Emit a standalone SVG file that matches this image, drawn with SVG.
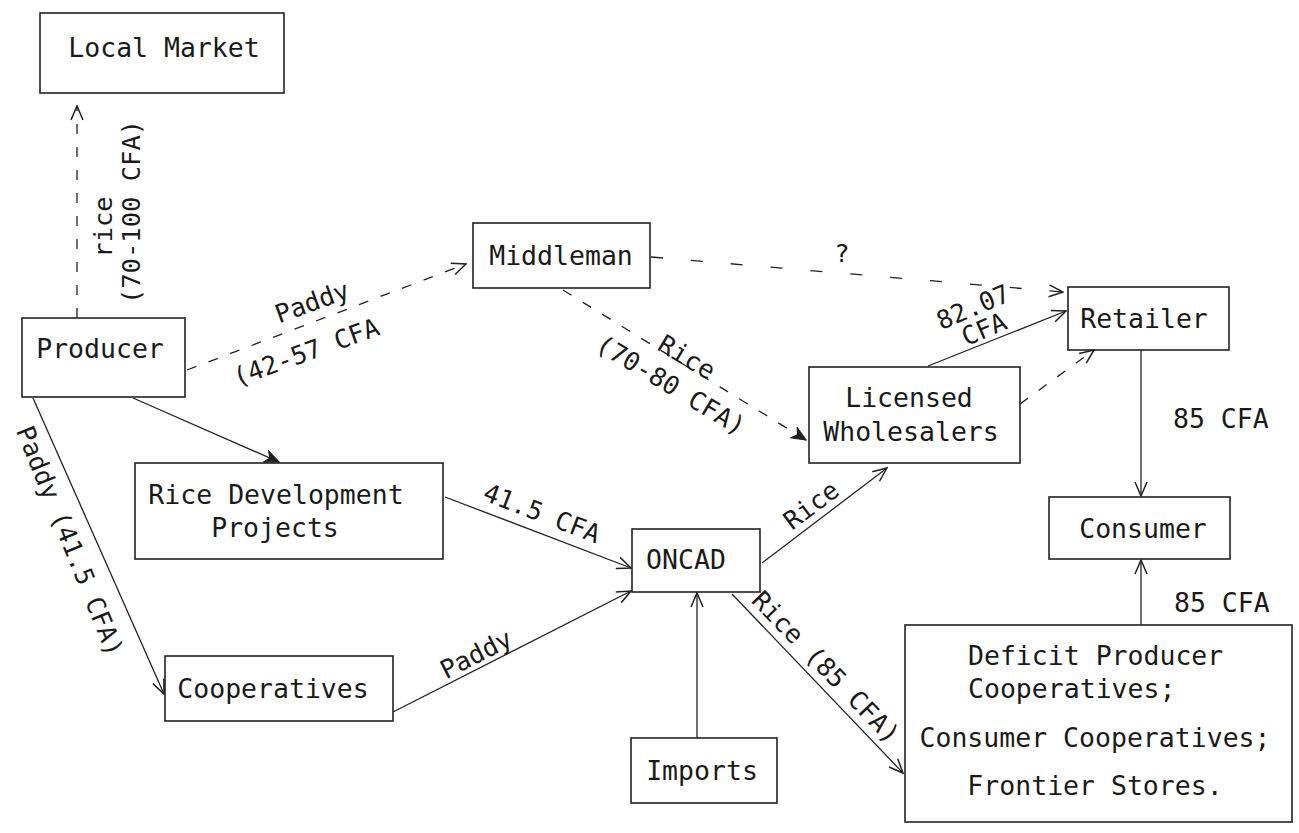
<svg xmlns="http://www.w3.org/2000/svg" width="1299" height="833" viewBox="0 0 1299 833">
<style>
  .box { fill: none; stroke: #222; stroke-width: 1.6; }
  .t { font-family: "DejaVu Sans Mono", "Liberation Mono", monospace; font-size: 26.5px; fill: #1a1a1a; }
  .c { text-anchor: middle; }
  .lbl { font-family: "DejaVu Sans Mono", "Liberation Mono", monospace; font-size: 25.5px; fill: #1a1a1a; text-anchor: middle; }
  .ln { fill: none; stroke: #222; stroke-width: 1.3; }
  .dash { stroke-dasharray: 10 13; }
  .sparse { stroke-dasharray: 12 28; }
</style>
<defs>
  <marker id="arr" viewBox="0 0 16 14" refX="15" refY="7" markerWidth="16" markerHeight="14" markerUnits="userSpaceOnUse" orient="auto">
    <path d="M1,1 L15,7 L1,13" fill="none" stroke="#222" stroke-width="1.5"/>
  </marker>
  <marker id="arrf" viewBox="0 0 16 14" refX="15" refY="7" markerWidth="16" markerHeight="14" markerUnits="userSpaceOnUse" orient="auto">
    <path d="M1,1 L15,7 L1,13 L5,7 Z" fill="#222" stroke="#222" stroke-width="1.2"/>
  </marker>
</defs>
<rect width="1299" height="833" fill="#ffffff"/>

<g id="connectors">
  <!-- Producer -> Local Market -->
  <line class="ln dash" x1="77" y1="318" x2="77" y2="106" marker-end="url(#arr)"/>
  <g transform="translate(103 227) rotate(-90)"><text class="lbl" x="0" y="9">rice</text></g>
  <g transform="translate(131 212) rotate(-90)"><text class="lbl" x="0" y="9">(70-100 CFA)</text></g>

  <!-- Producer -> Middleman -->
  <line class="ln dash" x1="187" y1="370" x2="466" y2="264" marker-end="url(#arr)"/>
  <g transform="translate(312 302) rotate(-20)"><text class="lbl" x="0" y="9">Paddy</text></g>
  <g transform="translate(306 352) rotate(-20)"><text class="lbl" x="0" y="9">(42-57 CFA</text></g>

  <!-- Middleman -> Retailer -->
  <line class="ln sparse" x1="651" y1="257" x2="1063" y2="292" marker-end="url(#arr)"/>
  <text class="lbl" x="842" y="262">?</text>

  <!-- Middleman -> Licensed Wholesalers -->
  <line class="ln dash" x1="563" y1="290" x2="806" y2="440" marker-end="url(#arrf)"/>
  <g transform="translate(687 357) rotate(31)"><text class="lbl" x="0" y="9">Rice</text></g>
  <g transform="translate(671 385) rotate(31)"><text class="lbl" x="0" y="9">(70-80 CFA)</text></g>

  <!-- Licensed Wholesalers -> Retailer (solid) -->
  <line class="ln" x1="928" y1="366" x2="1066" y2="311" marker-end="url(#arr)"/>
  <g transform="translate(973 307) rotate(-23)"><text class="lbl" x="0" y="9">82.07</text></g>
  <g transform="translate(984 329) rotate(-23)"><text class="lbl" x="0" y="9">CFA</text></g>

  <!-- Licensed Wholesalers -> Retailer (dashed) -->
  <line class="ln dash" x1="1020" y1="404" x2="1094" y2="350" marker-end="url(#arr)"/>

  <!-- Retailer -> Consumer -->
  <line class="ln" x1="1141" y1="350" x2="1141" y2="496" marker-end="url(#arr)"/>
  <text class="t" x="1173" y="428">85 CFA</text>

  <!-- Deficit -> Consumer -->
  <line class="ln" x1="1141" y1="625" x2="1141" y2="560" marker-end="url(#arr)"/>
  <text class="t" x="1174" y="612">85 CFA</text>

  <!-- Producer -> Rice Development Projects -->
  <line class="ln" x1="133" y1="398" x2="279" y2="462" marker-end="url(#arrf)"/>

  <!-- Producer -> Cooperatives -->
  <line class="ln" x1="33" y1="398" x2="164" y2="694" marker-end="url(#arr)"/>
  <g transform="translate(70 541) rotate(68)"><text class="lbl" x="0" y="9">Paddy (41.5 CFA)</text></g>

  <!-- Rice Development Projects -> ONCAD -->
  <line class="ln" x1="445" y1="497" x2="631" y2="568" marker-end="url(#arr)"/>
  <g transform="translate(542 513) rotate(21)"><text class="lbl" x="0" y="9">41.5 CFA</text></g>

  <!-- Cooperatives -> ONCAD -->
  <line class="ln" x1="393" y1="712" x2="631" y2="591" marker-end="url(#arr)"/>
  <g transform="translate(476 654) rotate(-27)"><text class="lbl" x="0" y="9">Paddy</text></g>

  <!-- Imports -> ONCAD -->
  <line class="ln" x1="697" y1="738" x2="697" y2="593" marker-end="url(#arr)"/>

  <!-- ONCAD -> Licensed Wholesalers -->
  <line class="ln" x1="762" y1="563" x2="887" y2="468" marker-end="url(#arr)"/>
  <g transform="translate(811 505) rotate(-37)"><text class="lbl" x="0" y="9">Rice</text></g>

  <!-- ONCAD -> Deficit Producer Cooperatives -->
  <line class="ln" x1="732" y1="594" x2="903" y2="773" marker-end="url(#arr)"/>
  <g transform="translate(826 667) rotate(46)"><text class="lbl" x="0" y="9">Rice (85 CFA)</text></g>
</g>

<g id="local-market">
  <rect class="box" x="40" y="13" width="244" height="80"/>
  <text class="t c" x="164" y="57">Local Market</text>
</g>
<g id="producer">
  <rect class="box" x="22" y="318" width="163" height="79"/>
  <text class="t c" x="100" y="358">Producer</text>
</g>
<g id="middleman">
  <rect class="box" x="473" y="223" width="177" height="65"/>
  <text class="t c" x="561" y="265">Middleman</text>
</g>
<g id="retailer">
  <rect class="box" x="1068" y="287" width="161" height="63"/>
  <text class="t c" x="1144" y="328">Retailer</text>
</g>
<g id="licensed-wholesalers">
  <rect class="box" x="809" y="367" width="211" height="96"/>
  <text class="t c" x="909" y="407">Licensed</text>
  <text class="t c" x="911" y="441">Wholesalers</text>
</g>
<g id="consumer">
  <rect class="box" x="1049" y="497" width="181" height="62"/>
  <text class="t c" x="1143" y="538">Consumer</text>
</g>
<g id="rice-development-projects">
  <rect class="box" x="135" y="463" width="308" height="96"/>
  <text class="t c" x="276" y="504">Rice Development</text>
  <text class="t c" x="275" y="537">Projects</text>
</g>
<g id="cooperatives">
  <rect class="box" x="165" y="656" width="228" height="65"/>
  <text class="t c" x="273" y="698">Cooperatives</text>
</g>
<g id="oncad">
  <rect class="box" x="632" y="529" width="128" height="63"/>
  <text class="t c" x="686" y="569">ONCAD</text>
</g>
<g id="imports">
  <rect class="box" x="631" y="738" width="146" height="65"/>
  <text class="t c" x="702" y="780">Imports</text>
</g>
<g id="deficit-producer-cooperatives">
  <rect class="box" x="905" y="625" width="387" height="197"/>
  <text class="t" x="968" y="665">Deficit Producer</text>
  <text class="t" x="968" y="698">Cooperatives;</text>
  <text class="t c" x="1095" y="747">Consumer Cooperatives;</text>
  <text class="t c" x="1095" y="795">Frontier Stores.</text>
</g>
</svg>
